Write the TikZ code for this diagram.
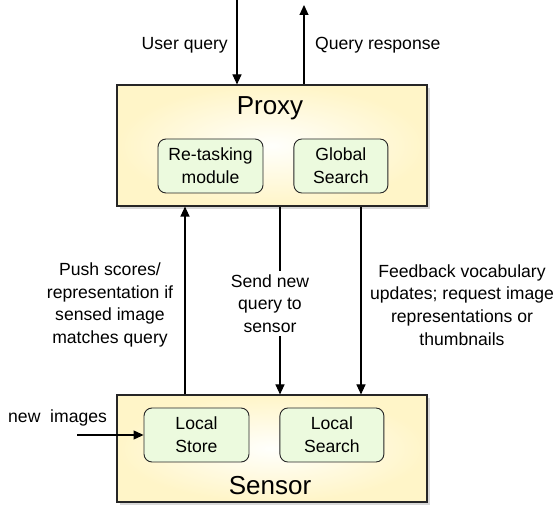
\documentclass[tikz,border=0pt]{standalone}
\usepackage{fontspec}
\setmainfont{Liberation Sans}
\usepackage{tikz}
\usetikzlibrary{positioning, arrows.meta, shadows}
\definecolor{tiercream}{RGB}{255,245,200}
\definecolor{tiercore}{RGB}{255,255,252}
\definecolor{modgreen}{RGB}{236,250,222}

\begin{document}
\begin{tikzpicture}[
    x=1pt, y=1pt,
    every node/.style={
        align=center,
        font=\fontsize{17.6}{22.6}\selectfont,
        inner sep=0pt
    },
    tier/.style={
        draw=black!85,
        line width=1.1pt,
        minimum width=310pt,
        inner color=tiercore,
        outer color=tiercream,
        drop shadow={shadow xshift=3pt, shadow yshift=-3pt, opacity=0.3}
    },
    module/.style={draw=black!85, line width=0.9pt, rounded corners=8pt,
        fill=modgreen, minimum height=54pt},
    tiername/.style={font=\fontsize{26}{31}\selectfont},
    arrow/.style={-{Triangle[length=10pt,width=9pt]}, line width=1.1pt},
    flow/.style={font=\fontsize{17.6}{22.6}\selectfont}
]
\useasboundingbox (0,0) rectangle (556,508);

%  Tiers 
\node (proxy) [tier, minimum height=121pt] at (272,362.5) {};
\node (sensor) [tier, minimum height=107pt] at (272,59.5) {};
\node (proxyname) [tiername] at (270,400) {Proxy};
\node (sensorname) [tiername] at (270,22) {Sensor};

%  Modules 
\node (retask) [module, minimum width=105pt] at (210.5,342) {Re-tasking\\module};
\node (gsearch) [module, minimum width=94pt, right=30pt of retask] {Global\\Search};
\node (lstore) [module, minimum width=105pt] at (196.5,73) {Local\\Store};
\node (lsearch) [module, minimum width=104pt, right=30pt of lstore] {Local\\Search};

%  Outside ends 
\coordinate (qin) at (237,508);
\coordinate (qout) at (304,503);
\coordinate (imgin) at (77,73);

%  Arrows 
\draw[arrow] (qin) -- (qin |- proxy.north);
\draw[arrow] (qout |- proxy.north) -- (qout);
\draw[arrow] ([xshift=-87pt]sensor.north) -- ([xshift=-87pt]proxy.south);
\draw[arrow] ([xshift=8pt]proxy.south) -- ([xshift=8pt]sensor.north);
\draw[arrow] ([xshift=89pt]proxy.south) -- ([xshift=89pt]sensor.north);
\draw[arrow] (imgin) -- (lstore);

%  Labels 
\node (qinlbl) [flow, anchor=east] at (228,463) {User query};
\node (qoutlbl) [flow, anchor=west] at (315,463) {Query response};
\node (pushlbl) [flow] at (110,203) {Push scores/\\representation if\\sensed image\\matches query};
\node (sendlbl) [flow, fill=white, inner sep=3pt] at (270,204.5) {Send new\\query to\\sensor};
\node (feedlbl) [flow] at (462,203) {Feedback vocabulary\\updates; request image\\representations or\\thumbnails};
\node (imglbl) [flow, anchor=west] at (8,90) {new\ \ images};

\end{tikzpicture}
\end{document}
